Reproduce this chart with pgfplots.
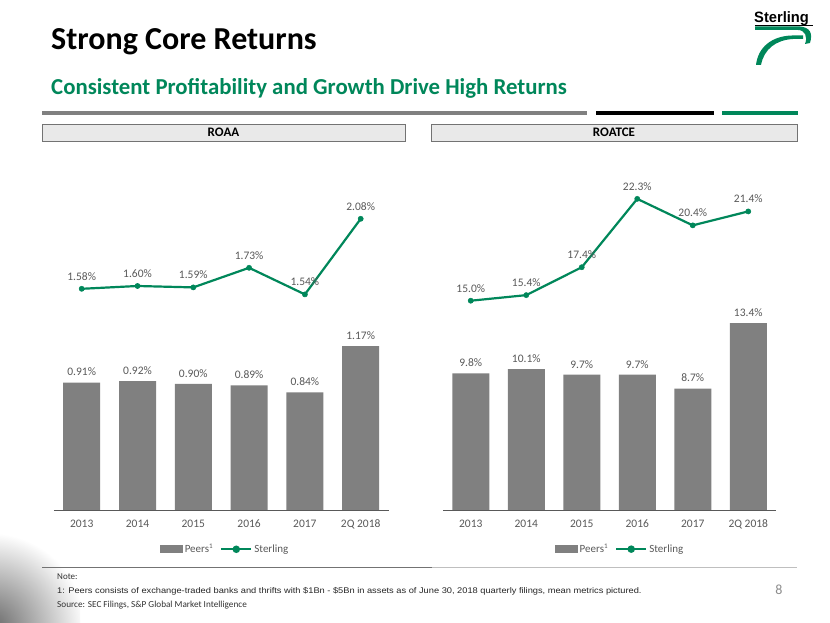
\documentclass[border=0pt]{standalone}
\usepackage{pgfplots}
\pgfplotsset{compat=1.18}
\usepackage{fontspec}
\setmainfont{Carlito}
\newfontfamily\arialfont{Liberation Sans}
\definecolor{sgreen}{HTML}{00875A}
\definecolor{bargray}{HTML}{808080}
\definecolor{lblgray}{HTML}{595959}
\definecolor{boxgray}{HTML}{E9E9E9}
\pgfplotsset{
  /pgf/number format/assume math mode=true,
  base/.style={
    scale only axis,
    xmin=-0.5, xmax=5.5, ymin=0,
    xtick={0,1,2,3,4,5},
    xticklabels={2013,2014,2015,2016,2017,2Q 2018},
    typeset ticklabels with strut,
    ytick=\empty,
    axis y line=none,
    axis x line*=bottom,
    x axis line style={draw=black!65, line width=0.8pt, -},
    major tick length=0pt,
    xticklabel style={font=\fontsize{11.5}{13}\selectfont, text=lblgray, yshift=-5pt},
    clip=false,
    legend style={draw=none, fill=none, legend columns=2, font=\fontsize{11}{13}\selectfont, text=lblgray,
      nodes={inner sep=1pt},
      /tikz/every odd column/.append style={column sep=1pt},
      /tikz/every even column/.append style={column sep=6pt}},
    legend cell align=left,
  },
  barplot/.style={ybar, bar width=37pt, fill=bargray, draw=none,
    nodes near coords, every node near coord/.append style={font=\fontsize{11.5}{13}\selectfont, text=lblgray, yshift=3pt},
    legend image code/.code={\fill[bargray] (0pt,-4pt) rectangle (23pt,4pt);}},
  lineplot/.style={sgreen, line width=2.2pt, mark=*, mark size=2.6pt, mark options={fill=sgreen, draw=sgreen, line width=0.5pt},
    nodes near coords, every node near coord/.append style={font=\fontsize{11.5}{13}\selectfont, text=lblgray, yshift=5pt},
    legend image code/.code={\draw[sgreen, line width=2.2pt] (0pt,0pt) -- (30pt,0pt); \fill[sgreen] (15pt,0pt) circle (2.6pt);}},
}
\begin{document}
\begin{tikzpicture}[x=1pt,y=1pt]
\useasboundingbox (0,0) rectangle (830,623);
\fill[white] (0,0) rectangle (830,623);
% corner shading
\begin{scope}
\clip (0,0) rectangle (80,100);
\shade[inner color=black!60, outer color=white] (-10,-5) circle (95);
\end{scope}
% titles
\node[anchor=base west, inner sep=0pt, font=\fontsize{32}{38}\selectfont\bfseries] at (51,573) {Strong Core Returns};
\node[anchor=base west, inner sep=0pt, text=sgreen, font=\fontsize{22.8}{26}\selectfont\bfseries] at (51,528.5) {Consistent Profitability and Growth Drive High Returns};
% rules
\draw[black!50, line width=4.5pt] (42,510) -- (587,510);
\draw[black, line width=4.5pt] (596,510) -- (714,510);
\draw[sgreen, line width=4.5pt] (722,510) -- (798,510);
% header boxes
\draw[black!55, fill=boxgray, line width=0.8pt] (42,482) rectangle (405,499);
\node[font=\fontsize{13}{15}\selectfont\bfseries] at (223.5,490.5) {ROAA};
\draw[black!55, fill=boxgray, line width=0.8pt] (431,482) rectangle (797,499);
\node[font=\fontsize{13}{15}\selectfont\bfseries] at (614,490.5) {ROATCE};
% logo
\node[anchor=base west, inner sep=0pt, font=\fontsize{15}{17}\selectfont\bfseries\arialfont, xscale=0.98] at (754,600) {Sterling};
\draw[black, line width=0.6pt] (755,598) -- (813,598);
\fill[sgreen] (755,596.5) -- (800,596.5) .. controls (810,595.5) and (813,590) .. (810,580) -- (805,579) .. controls (808,586) and (805,593) .. (798,593) -- (755,593) -- cycle;
\fill[sgreen] (756,558) .. controls (758,576) and (772,587) .. (792,587.5) -- (803,587.5) -- (803,584) -- (793,584) .. controls (776,583) and (764,574) .. (761,558) -- cycle;
% ROAA
\begin{axis}[base, at={(53.8pt,113pt)}, anchor=south west, width=334.8pt, height=322pt, ymax=2.3,
  legend style={at={(0.51,-0.122)}, anchor=center}]
\addplot[barplot, nodes near coords={\pgfmathprintnumber[fixed,fixed zerofill,precision=2]{\pgfplotspointmeta}\%}]
  coordinates {(0,0.91) (1,0.92) (2,0.90) (3,0.89) (4,0.84) (5,1.17)};
\addlegendentry{Peers\textsuperscript{\scriptsize 1}}
\addplot[lineplot, nodes near coords={\pgfmathprintnumber[fixed,fixed zerofill,precision=2]{\pgfplotspointmeta}\%}]
  coordinates {(0,1.58) (1,1.60) (2,1.59) (3,1.73) (4,1.54) (5,2.08)};
\addlegendentry{Sterling}
\end{axis}
% ROATCE
\begin{axis}[base, at={(443pt,113pt)}, anchor=south west, width=333pt, height=320.9pt, ymax=23,
  legend style={at={(0.53,-0.122)}, anchor=center}]
\addplot[barplot, nodes near coords={\pgfmathprintnumber[fixed,fixed zerofill,precision=1]{\pgfplotspointmeta}\%}]
  coordinates {(0,9.8) (1,10.1) (2,9.7) (3,9.7) (4,8.7) (5,13.4)};
\addlegendentry{Peers\textsuperscript{\scriptsize 1}}
\addplot[lineplot, nodes near coords={\pgfmathprintnumber[fixed,fixed zerofill,precision=1]{\pgfplotspointmeta}\%}]
  coordinates {(0,15.0) (1,15.4) (2,17.4) (3,22.3) (4,20.4) (5,21.4)};
\addlegendentry{Sterling}
\end{axis}
% footer
\draw[black!55, line width=1pt] (42,55) -- (432,55);
\draw[black!25, line width=1pt] (432,55) -- (797,55);
\node[anchor=base west, inner sep=0pt, font=\fontsize{9}{10}\selectfont, text=black!80] at (57,43) {Note:};
\node[anchor=base west, inner sep=0pt, font=\arialfont\fontsize{8.2}{9}\selectfont, text=black!85, xscale=1.13] at (57,29) {1: Peers consists of exchange-traded banks and thrifts with \$1Bn - \$5Bn in assets as of June 30, 2018 quarterly filings, mean metrics pictured.};
\node[anchor=base west, inner sep=0pt, font=\fontsize{9.2}{10}\selectfont, text=black!80] at (57,15) {Source: SEC Filings, S\&P Global Market Intelligence};
\node[anchor=base, inner sep=0pt, font=\fontsize{14}{15}\selectfont, text=black!45] at (779,28) {8};
\end{tikzpicture}
\end{document}
